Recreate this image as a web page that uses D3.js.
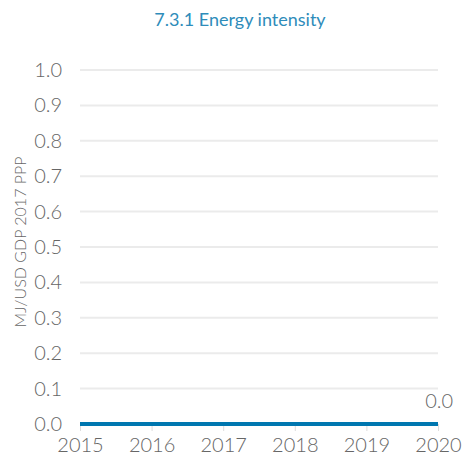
<!DOCTYPE html>
<html>
<head>
<meta charset="utf-8">
<script src="https://cdn.jsdelivr.net/npm/d3@7"></script>
<style>
  body { margin: 0; background: #fff; }
  text { font-family: Lato, "Open Sans", sans-serif; font-weight: 300; }
</style>
</head>
<body>
<svg id="chart" width="463" height="464"></svg>
<script>
const years = [2015, 2016, 2017, 2018, 2019, 2020];
const values = [0, 0, 0, 0, 0, 0];
const yTicks = [0, 0.1, 0.2, 0.3, 0.4, 0.5, 0.6, 0.7, 0.8, 0.9, 1.0];

const svg = d3.select("#chart");
const margin = {left: 80, right: 25, top: 70, bottom: 40};
const width = 463, height = 464;

const x = d3.scaleLinear().domain([2015, 2020]).range([margin.left, width - margin.right]);
const y = d3.scaleLinear().domain([0, 1]).range([height - margin.bottom, margin.top]);

// title
svg.append("text")
  .attr("x", 240).attr("y", 26)
  .attr("text-anchor", "middle")
  .attr("fill", "#2e8cba")
  .attr("font-size", 18)
  .style("font-weight", 400)
  .text("7.3.1 Energy intensity");

// gridlines
svg.append("g")
  .selectAll("line").data(yTicks.filter(d => d > 0)).join("line")
  .attr("x1", x(2015)).attr("x2", x(2020))
  .attr("y1", d => y(d)).attr("y2", d => y(d))
  .attr("stroke", "#ebebeb").attr("stroke-width", 2);

// y axis
const yAxis = svg.append("g")
  .attr("transform", `translate(${margin.left - 18},0)`)
  .call(d3.axisLeft(y).tickValues(yTicks).tickFormat(d3.format(".1f")).tickSize(0));
yAxis.select(".domain").remove();
yAxis.selectAll("text").attr("font-size", 20).attr("fill", "#666").attr("x", 0)
  .attr("font-family", null);

// x axis
const xAxis = svg.append("g")
  .attr("transform", `translate(0,${y(0)})`)
  .call(d3.axisBottom(x).tickValues(years).tickFormat(d3.format("d")).tickSize(7).tickPadding(7));
xAxis.select(".domain").remove();
xAxis.selectAll("line").attr("stroke", "#ddd");
xAxis.selectAll("text").attr("font-size", 20).attr("fill", "#666").attr("font-family", null);

// y label
svg.append("text")
  .attr("transform", `translate(26,${(y(0) + y(1)) / 2 - 5}) rotate(-90)`)
  .attr("text-anchor", "middle")
  .attr("font-size", 16)
  .attr("fill", "#666")
  .text("MJ/USD GDP 2017 PPP");

// line
const line = d3.line().x((d, i) => x(years[i])).y(d => y(d));
svg.append("path")
  .datum(values)
  .attr("d", line)
  .attr("fill", "none")
  .attr("stroke", "#0077b0")
  .attr("stroke-width", 4);

// end label
svg.append("text")
  .attr("x", x(years[years.length - 1]) + 15)
  .attr("y", y(values[values.length - 1]) - 16)
  .attr("text-anchor", "end")
  .attr("font-size", 20)
  .attr("fill", "#666")
  .text(d3.format(".1f")(values[values.length - 1]));
</script>
</body>
</html>
